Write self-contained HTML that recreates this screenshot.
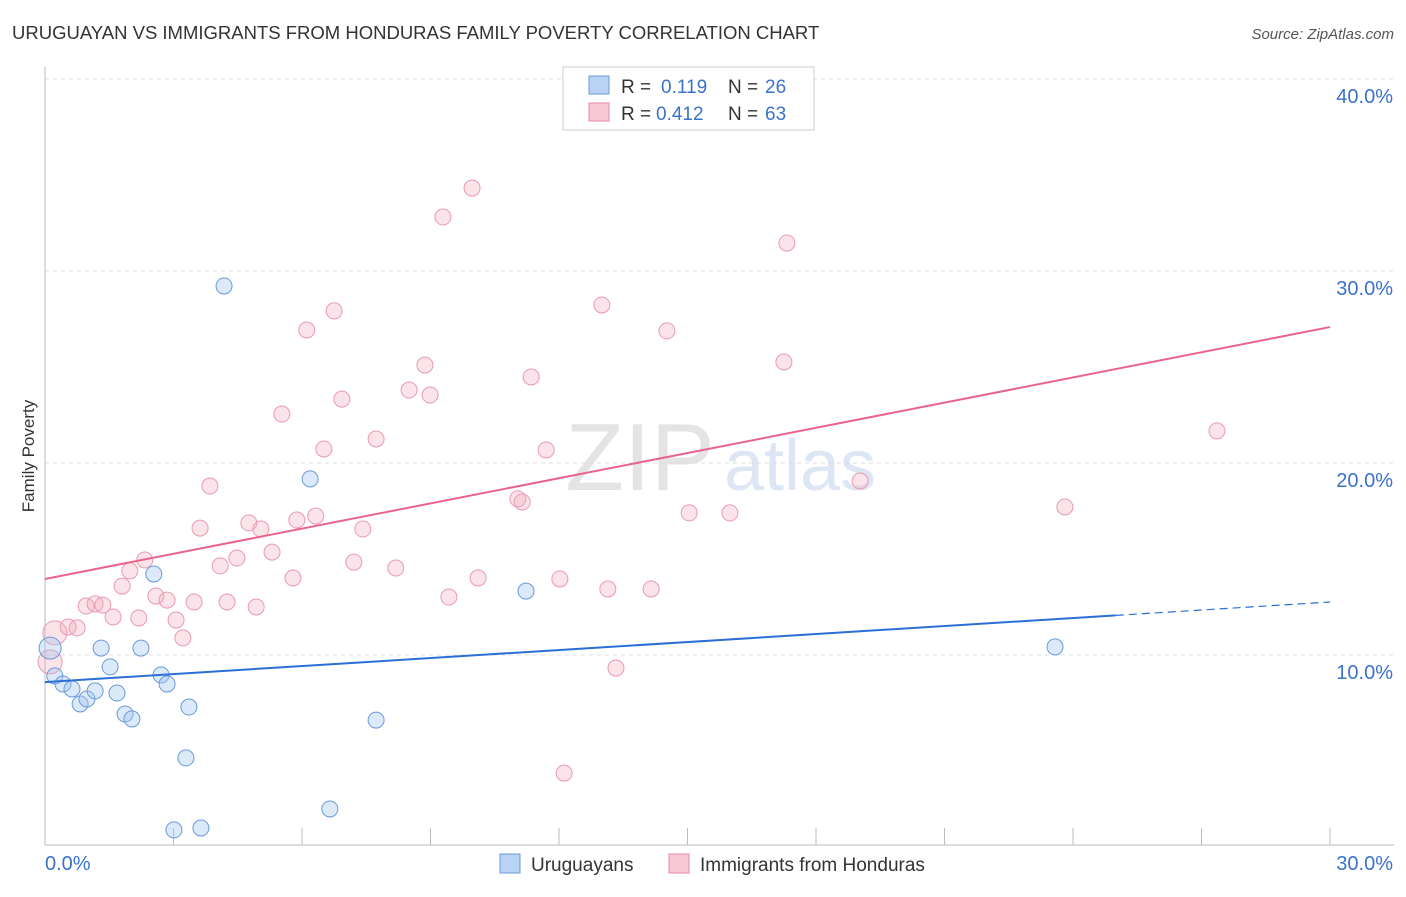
<!DOCTYPE html>
<html><head><meta charset="utf-8"><style>
body{margin:0;background:#fff;font-family:"Liberation Sans",sans-serif;}
svg text{font-family:"Liberation Sans",sans-serif;}
</style></head><body>
<svg id="c" width="1406" height="892">
<text x="12" y="39" font-size="18.5" fill="#333">URUGUAYAN VS IMMIGRANTS FROM HONDURAS FAMILY POVERTY CORRELATION CHART</text>
<text x="1394" y="39" font-size="15" fill="#555" font-style="italic" text-anchor="end">Source: ZipAtlas.com</text>
<text x="640" y="490" font-size="96" fill="#e4e4e4" font-family="Liberation Serif" text-anchor="middle">ZIP</text>
<text x="800" y="490" font-size="72" fill="#dce6f4" text-anchor="middle">atlas</text>
<text x="34" y="456" font-size="17" fill="#333" transform="rotate(-90 34 456)" text-anchor="middle">Family Poverty</text>
<g id="grid"></g><g id="marks"></g>
<g>
<rect x="563" y="67" width="251" height="63" fill="#fff" stroke="#ccc"/>
<rect x="589" y="76" width="20" height="18" fill="#b9d3f5" stroke="#6a9ad8"/>
<text x="621" y="93" font-size="19" fill="#333">R =</text>
<text x="661" y="93" font-size="19" fill="#3a72cc">0.119</text>
<text x="728" y="93" font-size="19" fill="#333">N =</text>
<text x="765" y="93" font-size="19" fill="#3a72cc">26</text>
<rect x="589" y="103" width="20" height="18" fill="#f9c8d6" stroke="#e88aa5"/>
<text x="621" y="120" font-size="19" fill="#333">R =</text>
<text x="656" y="120" font-size="19" fill="#3a72cc">0.412</text>
<text x="728" y="120" font-size="19" fill="#333">N =</text>
<text x="765" y="120" font-size="19" fill="#3a72cc">63</text>
</g>
<g>
<rect x="500" y="854" width="20" height="19" fill="#b9d3f5" stroke="#6a9ad8"/>
<text x="531" y="871" font-size="19" fill="#333">Uruguayans</text>
<rect x="669" y="854" width="20" height="19" fill="#f9c8d6" stroke="#e88aa5"/>
<text x="700" y="871" font-size="19" fill="#333">Immigrants from Honduras</text>
</g>
</svg>
<script>
const blueX=[0.12,0.23,0.42,0.63,0.82,0.98,1.17,1.31,1.52,1.68,1.87,2.03,2.24,2.54,2.71,2.85,3.01,3.29,3.36,3.64,4.18,6.19,6.65,7.73,11.23,23.58];
const blueY=[10.36,8.91,8.49,8.23,7.45,7.71,8.13,10.36,9.38,8.02,6.93,6.67,10.36,14.22,8.96,8.49,0.89,4.64,7.29,0.99,29.22,19.17,1.98,6.61,13.33,10.42];
const pinkX=[0.12,0.23,0.54,0.75,0.96,1.17,1.35,1.59,1.80,1.98,2.19,2.33,2.59,2.85,3.06,3.22,3.48,3.85,3.62,4.09,4.25,4.48,4.76,4.93,5.04,5.30,5.53,5.79,5.88,6.11,6.32,6.51,6.75,6.93,7.21,7.42,7.73,8.19,8.50,8.87,8.99,9.29,9.43,9.97,10.11,11.04,11.14,11.35,11.70,12.02,12.12,13.00,13.14,13.33,14.15,14.52,15.04,15.99,17.25,17.32,19.03,23.81,27.36];
const pinkY=[9.64,11.15,11.46,11.41,12.55,12.66,12.60,11.98,13.59,14.38,11.93,14.95,13.07,12.86,11.82,10.89,12.76,18.80,16.61,14.64,12.76,15.05,16.88,12.50,16.56,15.36,22.55,14.01,17.03,26.93,17.24,20.73,27.92,23.33,14.84,16.56,21.25,14.53,23.80,25.10,23.54,32.81,13.02,34.32,14.01,18.13,17.97,24.48,20.68,13.96,3.85,28.23,13.44,9.32,13.44,26.88,17.40,17.40,25.26,31.46,19.06,17.71,21.67];
const yTicks=[10,20,30,40];
const yTickLabels=["10.0%","20.0%","30.0%","40.0%"];
const blueTrend=[8.59,12.76];
const pinkTrend=[13.96,27.08];
const X=v=>45+v*1285/30, Y=v=>847-v*19.2;
const NS="http://www.w3.org/2000/svg";
function mk(t,a,p){const e=document.createElementNS(NS,t);for(const k in a)e.setAttribute(k,a[k]);p.appendChild(e);return e;}
const g=document.getElementById('grid'),m=document.getElementById('marks');
yTicks.forEach((t,i)=>{
 const l=mk('line',{x1:45,x2:1394,y1:Y(t),y2:Y(t),stroke:'#ddd','stroke-dasharray':'4 4'},g);
 
 
 const tx=mk('text',{x:1393,y:Y(t)+24,'font-size':20,fill:'#3a72cc','text-anchor':'end'},g);
 tx.textContent=yTickLabels[i];
 
 
});
const ax=mk('line',{x1:45,x2:1394,y1:845,y2:845,stroke:'#bbb'},g);


const ay=mk('line',{x1:45,x2:45,y1:67,y2:845,stroke:'#bbb'},g);


for(let i=0;i<=10;i++){const t=mk('line',{x1:X(i*3),x2:X(i*3),y1:828,y2:845,stroke:'#bbb'},g);
 
 }
const xl=mk('text',{x:45,y:870,'font-size':20,fill:'#3a72cc'},g);xl.textContent='0.0%';


const xr=mk('text',{x:1393,y:870,'font-size':20,fill:'#3a72cc','text-anchor':'end'},g);xr.textContent='30.0%';


pinkX.forEach((x,i)=>{const c=mk('circle',{cx:X(x),cy:Y(pinkY[i]),r:i<2?12:8,fill:'rgba(244,170,192,0.33)',stroke:'#e99ab2','stroke-width':1},m);
 
 });
blueX.forEach((x,i)=>{const c=mk('circle',{cx:X(x),cy:Y(blueY[i]),r:i<1?11:8,fill:'rgba(160,196,240,0.38)',stroke:'#6a9ad8','stroke-width':1},m);
 
 });
const bs=(blueTrend[1]-blueTrend[0])/30;
const b1=mk('line',{x1:X(0),y1:Y(blueTrend[0]),x2:X(25),y2:Y(blueTrend[0]+bs*25),stroke:'#2a6fd6','stroke-width':2},m);


const b2=mk('line',{x1:X(25),y1:Y(blueTrend[0]+bs*25),x2:X(30),y2:Y(blueTrend[1]),stroke:'#2a6fd6','stroke-width':1.2,'stroke-dasharray':'8 5'},m);


const p1=mk('line',{x1:X(0),y1:Y(pinkTrend[0]),x2:X(30),y2:Y(pinkTrend[1]),stroke:'#e8648e','stroke-width':2},m);


</script>
</body></html>
